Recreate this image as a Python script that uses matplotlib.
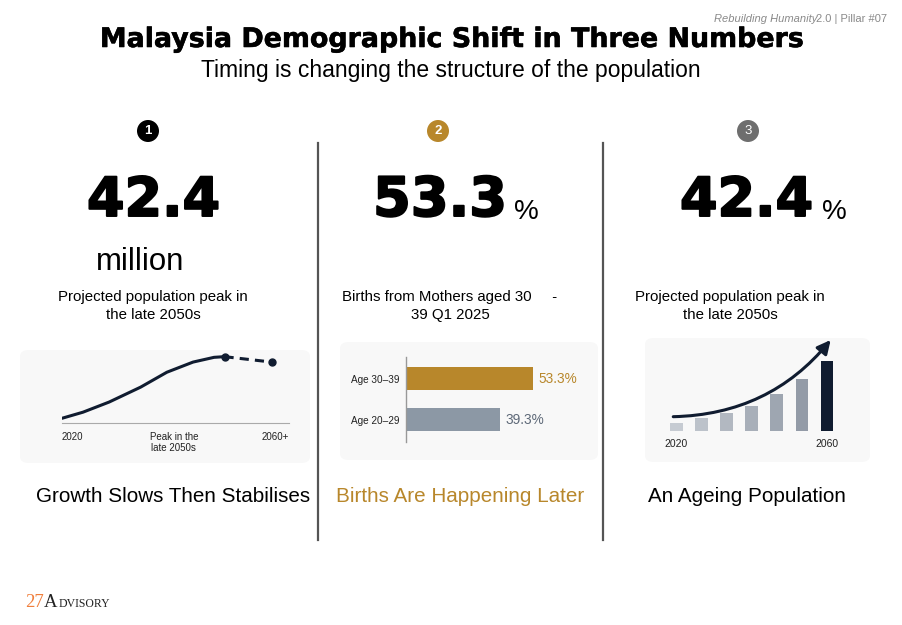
import matplotlib
matplotlib.use("Agg")
import matplotlib.pyplot as plt
import matplotlib.patheffects as pe
from matplotlib.patches import Circle, FancyBboxPatch
from matplotlib.lines import Line2D

plt.rcParams['font.family'] = ['Liberation Sans', 'DejaVu Sans']

# ---- data ----
headline_values = ["42.4", "53.3", "42.4"]
headline_units = ["million", "%", "%"]
headline_notes = [["Projected population peak in", "the late 2050s"],
                  ["Births from Mothers aged 30     -", "39 Q1 2025"],
                  ["Projected population peak in", "the late 2050s"]]
panel_titles = ["Growth Slows Then Stabilises", "Births Are Happening Later", "An Ageing Population"]

# population curve (millions), solid to the peak, dashed after
pop_years = [2020, 2024, 2029, 2035, 2040, 2045, 2049, 2051]
pop_million = [33.3, 34.2, 35.7, 37.9, 40.1, 41.6, 42.3, 42.4]
pop_tail_years = [2051, 2060]
pop_tail_million = [42.4, 41.6]
pop_tick_labels = ["2020", "Peak in the\nlate 2050s", "2060+"]

# births by mother's age (share, %)
birth_groups = ["Age 20\u201329", "Age 30\u201339"]
birth_share = [39.3, 53.3]

# ageing index bars
ageing_labels = ["2020", "", "", "", "", "", "2060"]
ageing_index = [7.3, 12.3, 18.0, 24.7, 36.7, 51.3, 70.0]

GOLD = "#B8872B"
NAVY = "#101C30"
W, H = 903, 625

fig = plt.figure(figsize=(W / 100, H / 100), dpi=100)
fig.patch.set_facecolor("white")
renderer = fig.canvas.get_renderer()


def fx(x):
    return x / W


def fy(y):
    return 1 - y / H


def add_ax(left, top, right, bottom):
    return fig.add_axes([fx(left), fy(bottom), (right - left) / W, (bottom - top) / H])


def fit_text(x, y, s, width, **kw):
    # size a text so that it spans the given pixel width
    t = fig.text(fx(x), fy(y), s, fontsize=10, **kw)
    w = t.get_window_extent(renderer).width
    t.set_fontsize(10 * width / w)
    return t


# ---- header ----
fit_text(452, 47, "Malaysia Demographic Shift in Three Numbers", 704,
         ha="center", va="baseline", fontweight="bold", family="DejaVu Sans",
         path_effects=[pe.withStroke(linewidth=0.4, foreground="black")])
fit_text(451, 77, "Timing is changing the structure of the population", 502,
         ha="center", va="baseline")
fig.text(fx(817), fy(19), "Rebuilding Humanity", ha="right", va="center",
         fontsize=8, style="italic", color="#8a8a8a")
fig.text(fx(816), fy(19), "2.0 | Pillar #07", ha="left", va="center",
         fontsize=8, color="#8a8a8a")

# ---- number badges and dividers ----
badge_x = [148, 438, 748]
badge_colors = ["black", GOLD, "#6e6e6e"]
for i, (bx, bc) in enumerate(zip(badge_x, badge_colors)):
    fig.patches.append(Circle((bx / 100, (H - 131) / 100), 0.11,
                              transform=fig.dpi_scale_trans,
                              facecolor=bc, edgecolor="none"))
    fig.text(fx(bx), fy(131.5), str(i + 1), ha="center", va="center",
             fontsize=9.5, fontweight="bold" if i < 2 else "normal", color="white")

for dx in [318, 603]:
    fig.add_artist(Line2D([fx(dx), fx(dx)], [fy(143), fy(540)], color="#555555",
                          lw=1.6, transform=fig.transFigure))

# ---- big numbers ----
big_left = [87, 373, 680]
for bx, val in zip(big_left, headline_values):
    fit_text(bx, 216, val, 134, ha="left", va="baseline",
             fontweight="bold", family="DejaVu Sans",
             path_effects=[pe.withStroke(linewidth=1.4, foreground="black")])
fit_text(96, 270, headline_units[0], 89, ha="left", va="baseline")
fig.text(fx(514), fy(219), headline_units[1], ha="left", va="baseline", fontsize=20)
fig.text(fx(822), fy(219), headline_units[2], ha="left", va="baseline", fontsize=20)

for nx, note in zip([153, 450, 730], headline_notes):
    fig.text(fx(nx), fy(300.7), note[0], ha="center", va="baseline", fontsize=10.8)
    fig.text(fx(nx), fy(319.3), note[1], ha="center", va="baseline", fontsize=10.8)

# ---- faint panel backgrounds ----
for (l, t, r, b) in [(20, 350, 310, 463), (340, 342, 598, 460), (645, 338, 870, 462)]:
    fig.patches.append(FancyBboxPatch((fx(l), fy(b)), (r - l) / W, (b - t) / H,
                                      boxstyle="round,pad=0,rounding_size=0.01",
                                      transform=fig.transFigure, facecolor="#f8f8f8",
                                      edgecolor="none", zorder=-1))

# ---- panel 1: population curve ----
ax1 = add_ax(62, 340, 289, 423.3)
ax1.plot(pop_years, pop_million, color=NAVY, lw=2.2, solid_capstyle="round",
         solid_joinstyle="round")
ax1.plot(pop_tail_years, pop_tail_million, color=NAVY, lw=2.2, ls=(0, (3, 2)))
ax1.plot([pop_tail_years[0], pop_tail_years[-1]], [pop_tail_million[0], pop_tail_million[-1]],
         "o", color=NAVY, ms=5)
ax1.set_xlim(2020, 2063.3)
ax1.set_ylim(32.56, 44.86)
x0, x1 = ax1.get_xlim()
ax1.set_xticks([x0, x0 + (x1 - x0) * 0.493, x1])
ax1.set_xticklabels(pop_tick_labels, fontsize=7, color="#222222", linespacing=1.2)
labs = ax1.get_xticklabels()
labs[0].set_ha("left")
labs[2].set_ha("right")
ax1.tick_params(axis="x", length=0, pad=6)
ax1.set_yticks([])
for s in ["top", "right", "left"]:
    ax1.spines[s].set_visible(False)
ax1.spines["bottom"].set_color("#aaaaaa")
ax1.spines["bottom"].set_linewidth(0.8)
ax1.patch.set_alpha(0)

# ---- panel 2: births by mother's age ----
ax2 = add_ax(406, 357, 595, 442)
bar_colors = ["#8c98a5", GOLD]
text_colors = ["#5d6877", GOLD]
ax2.barh(range(len(birth_groups)), birth_share, height=0.565, color=bar_colors)
for i, v in enumerate(birth_share):
    ax2.annotate(f"{v}%", (v, i), xytext=(4, 0), textcoords="offset points",
                 ha="left", va="center", fontsize=9.8, color=text_colors[i])
ax2.set_xlim(0, 79.2)
ax2.set_ylim(-0.548, 1.54)
ax2.set_yticks(range(len(birth_groups)))
ax2.set_yticklabels(birth_groups, fontsize=7.2, color="#222222")
ax2.tick_params(axis="y", length=0, pad=5)
ax2.set_xticks([])
for s in ["top", "right", "bottom"]:
    ax2.spines[s].set_visible(False)
ax2.spines["left"].set_color("#999999")
ax2.spines["left"].set_linewidth(1)
ax2.patch.set_alpha(0)

# ---- panel 3: ageing bars ----
ax3 = add_ax(663.7, 340, 839.7, 430.7)
shade = ["#c6cbd2", "#bcc2ca", "#b2b8c1", "#a8afb9", "#9ea6b1", "#939ba7", NAVY]
ax3.bar(range(len(ageing_index)), ageing_index, width=0.505, color=shade)
ax3.annotate("", xy=(6.14, 90.7), xytext=(-0.12, 14),
             arrowprops=dict(arrowstyle="-|>,head_length=0.8,head_width=0.4",
                             color=NAVY, lw=2.2, connectionstyle="arc3,rad=0.23",
                             shrinkA=0, shrinkB=0),
             annotation_clip=False)
ax3.set_xlim(-0.5, 6.5)
ax3.set_ylim(0, 90.7)
ax3.set_xticks([0, 6])
ax3.set_xticklabels([ageing_labels[0], ageing_labels[-1]], fontsize=7.5, color="#222222")
ax3.tick_params(axis="x", length=0, pad=6)
ax3.set_yticks([])
for s in ax3.spines.values():
    s.set_visible(False)
ax3.patch.set_alpha(0)

# ---- panel captions ----
cap = fit_text(173.5, 502, panel_titles[0], 275, ha="center", va="baseline")
cap_size = cap.get_fontsize()
fig.text(fx(460.5), fy(502), panel_titles[1], ha="center", va="baseline",
         fontsize=cap_size, color=GOLD)
fig.text(fx(747), fy(502), panel_titles[2], ha="center", va="baseline", fontsize=cap_size)

# ---- logo ----
t27 = fig.text(fx(25), fy(607), "27", ha="left", va="baseline", fontsize=13.5,
               family="Liberation Serif", color="#f07f3c")
x_next = t27.get_window_extent(renderer).x1
tA = fig.text(x_next / W, fy(607), "A", ha="left", va="baseline", fontsize=13.5,
              family="Liberation Serif", color="#222222")
x_next = tA.get_window_extent(renderer).x1
fig.text(x_next / W + 0.001, fy(607), "DVISORY", ha="left", va="baseline", fontsize=8.5,
         family="Liberation Serif", color="#222222")

fig.savefig("out.png", dpi=100, facecolor="white")
